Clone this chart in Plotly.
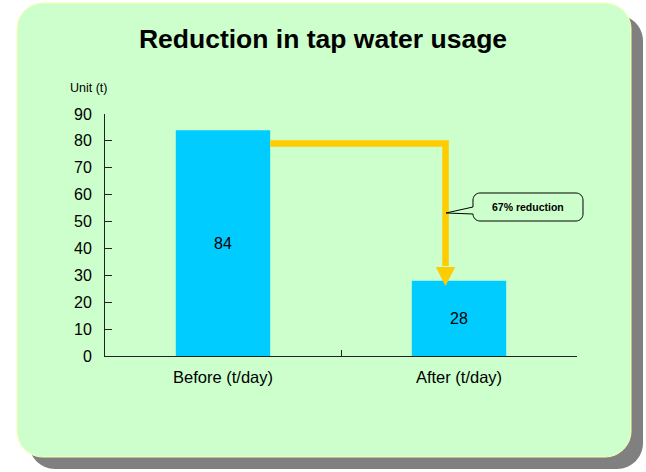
import plotly.graph_objects as go

# ---------------- data ----------------
categories = ["Before (t/day)", "After (t/day)"]
usage = [84, 28]
y_tick_values = [0, 10, 20, 30, 40, 50, 60, 70, 80, 90]
title_text = "Reduction in tap water usage"
unit_label = "Unit (t)"
callout_text = "67% reduction"
arrow_level = 79      # height of the horizontal part of the arrow (t)
arrow_tip = 26        # level where the arrow head ends (t)

# ---------------- layout constants ----------------
W, H = 646, 472
ML, MR, MT, MB = 105, 69, 114, 116
PW = W - ML - MR
PH = H - MT - MB
BAR_WIDTH = 0.4
FONT = "Arial, Liberation Sans, sans-serif"
YELLOW = "#FFCC00"


def to_paper(X, Y):
    """pixel position -> paper coordinates"""
    return (X - ML) / PW, (H - MB - Y) / PH


def P(X, Y):
    a, b = to_paper(X, Y)
    return f"{a:.5f},{b:.5f}"


def rounded_rect(x0, y0, x1, y1, r, pointer=None):
    k = 0.5523 * r
    s = f"M {P(x0 + r, y0)} L {P(x1 - r, y0)} "
    s += f"C {P(x1 - r + k, y0)} {P(x1, y0 + r - k)} {P(x1, y0 + r)} "
    s += f"L {P(x1, y1 - r)} "
    s += f"C {P(x1, y1 - r + k)} {P(x1 - r + k, y1)} {P(x1 - r, y1)} "
    s += f"L {P(x0 + r, y1)} "
    s += f"C {P(x0 + r - k, y1)} {P(x0, y1 - r + k)} {P(x0, y1 - r)} "
    if pointer:
        (by_low, tipx, tipy, by_high) = pointer
        s += f"L {P(x0, by_low)} L {P(tipx, tipy)} L {P(x0, by_high)} "
    s += f"L {P(x0, y0 + r)} "
    s += f"C {P(x0, y0 + r - k)} {P(x0 + r - k, y0)} {P(x0 + r, y0)} Z"
    return s


fig = go.Figure()
fig.add_trace(go.Bar(
    x=categories, y=usage, width=BAR_WIDTH,
    marker=dict(color="#00CCFF", line=dict(width=0)),
    text=[str(v) for v in usage], textposition="inside",
    insidetextanchor="middle", textangle=0,
    textfont=dict(family=FONT, size=16, color="#000000"),
    hoverinfo="x+y", showlegend=False,
))

shapes = []
# shadow and card
shapes.append(dict(type="path", xref="paper", yref="paper", layer="below",
                   path=rounded_rect(29, 15, 643, 469, 26),
                   fillcolor="#808080", line=dict(width=0)))
shapes.append(dict(type="path", xref="paper", yref="paper", layer="below",
                   path=rounded_rect(17, 3, 631, 457, 26),
                   fillcolor="#CCFFCC", line=dict(color="#FFFFB0", width=1)))

# elbow arrow (data coordinates)
ax_x = 0.943
shapes.append(dict(type="path", xref="x", yref="y",
                   path=f"M {BAR_WIDTH/2},{arrow_level} L {ax_x},{arrow_level} L {ax_x},{arrow_tip + 7.5}",
                   line=dict(color=YELLOW, width=6.5)))
shapes.append(dict(type="path", xref="x", yref="y",
                   path=f"M {ax_x - 0.041},{arrow_tip + 7.1} L {ax_x + 0.041},{arrow_tip + 7.1} L {ax_x},{arrow_tip} Z",
                   fillcolor=YELLOW, line=dict(width=0)))

# callout bubble
shapes.append(dict(type="path", xref="paper", yref="paper",
                   path=rounded_rect(473, 193, 583, 221, 7, pointer=(214, 446, 213, 207)),
                   fillcolor="#CCFFCC", line=dict(color="#000000", width=1)))

annotations = []
ux, uy = to_paper(68, 88)
annotations.append(dict(xref="paper", yref="paper", x=ux, y=uy, xanchor="left", yanchor="middle",
                        text=unit_label, showarrow=False,
                        font=dict(family=FONT, size=12.5, color="#000000")))
cx, cy = to_paper(528, 206.5)
annotations.append(dict(xref="paper", yref="paper", x=cx, y=cy, xanchor="center", yanchor="middle",
                        text=f"<b>{callout_text}</b>", showarrow=False,
                        font=dict(family=FONT, size=10.5, color="#000000")))

fig.update_layout(
    width=W, height=H,
    margin=dict(l=ML, r=MR, t=MT, b=MB, pad=0),
    paper_bgcolor="#FFFFFF", plot_bgcolor="rgba(0,0,0,0)",
    title=dict(text=f"<b>{title_text}</b>", x=0.5, xref="container", xanchor="center",
               y=1 - 38.5 / H, yref="container", yanchor="middle",
               font=dict(family=FONT, size=26.5, color="#000000")),
    shapes=shapes, annotations=annotations,
    bargap=0.6,
    xaxis=dict(type="category", range=[-0.5, 1.5], showgrid=False, zeroline=False,
               showline=True, linecolor="#222222", linewidth=1,
               ticks="inside", tickson="boundaries", ticklen=6, tickcolor="#222222",
               tickfont=dict(family=FONT, size=16.5, color="#000000"),
               ticklabelstandoff=6, fixedrange=True),
    yaxis=dict(range=[0, 90], tickvals=y_tick_values, showgrid=False, zeroline=False,
               showline=True, linecolor="#222222", linewidth=1,
               ticks="inside", ticklen=7, tickcolor="#222222",
               tickfont=dict(family=FONT, size=16, color="#000000"),
               ticklabelstandoff=9, fixedrange=True),
)

fig.write_html("out.html", include_plotlyjs=True, config=dict(displayModeBar=False),
               post_script="document.body.style.margin='0';document.body.style.overflow='hidden';")
